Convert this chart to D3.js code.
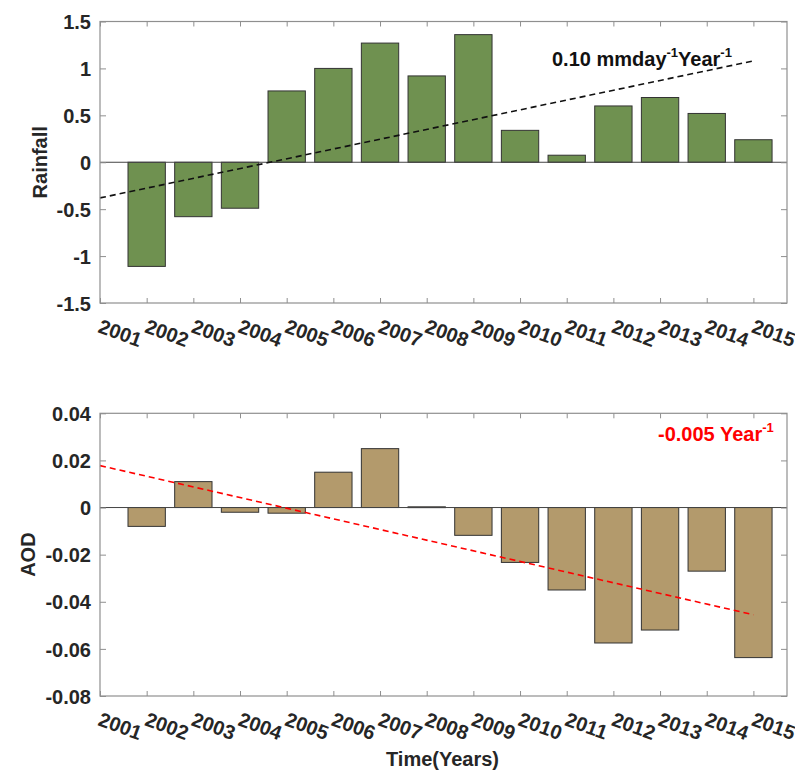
<!DOCTYPE html>
<html>
<head>
<meta charset="utf-8">
<script src="https://cdn.jsdelivr.net/npm/d3@7"></script>
<style>
  body { margin: 0; background: #fff; }
  text { font-family: "Liberation Sans", Arial, sans-serif; font-weight: bold; }
</style>
</head>
<body>
<svg id="chart" width="795" height="772"></svg>
<script>
// data
const barYears = [2002, 2003, 2004, 2005, 2006, 2007, 2008, 2009, 2010, 2011, 2012, 2013, 2014, 2015];
const tickYears = [2001, 2002, 2003, 2004, 2005, 2006, 2007, 2008, 2009, 2010, 2011, 2012, 2013, 2014, 2015];
const rainfall = [-1.11, -0.58, -0.49, 0.76, 1.0, 1.27, 0.92, 1.36, 0.34, 0.075, 0.6, 0.69, 0.52, 0.24];
const aod = [-0.008, 0.011, -0.002, -0.0024, 0.015, 0.025, 0.0003, -0.0118, -0.0233, -0.035, -0.0575, -0.052, -0.027, -0.0637];
const rainTicks = [-1.5, -1, -0.5, 0, 0.5, 1, 1.5];
const aodTicks = [-0.08, -0.06, -0.04, -0.02, 0, 0.02, 0.04];
const rainTrendX = [2001, 2015], rainTrendY = [-0.38, 1.08];
const aodTrendX = [2001, 2015], aodTrendY = [0.0178, -0.0455];

const svg = d3.select("#chart");
const left = 100, right = 787;

const x = d3.scaleLinear().domain([2001, 2015.72]).range([left, right]);

// one panel = bars + box axes + trend line
const drawPanel = (cfg) => {
  const y = d3.scaleLinear().domain(cfg.domain).range([cfg.bottom, cfg.top]);
  const g = svg.append("g");
  const bw = (x(2002) - x(2001)) * 0.8;

  // bars
  g.selectAll("rect.bar")
    .data(barYears.map((yr, i) => ({ yr, v: cfg.values[i] })))
    .enter()
    .append("rect")
    .attr("class", "bar")
    .attr("x", d => x(d.yr) - bw / 2)
    .attr("width", bw)
    .attr("y", d => y(Math.max(0, d.v)))
    .attr("height", d => Math.max(0.8, Math.abs(y(d.v) - y(0))))
    .attr("fill", cfg.color)
    .attr("stroke", "#333")
    .attr("stroke-width", 1);

  // baseline
  g.append("line")
    .attr("x1", left).attr("x2", right)
    .attr("y1", y(0)).attr("y2", y(0))
    .attr("stroke", "#444").attr("stroke-width", 1);

  // trend
  const line = d3.line().x(d => x(d[0])).y(d => y(d[1]));
  g.append("path")
    .attr("d", line(cfg.trendX.map((t, i) => [t, cfg.trendY[i]])))
    .attr("fill", "none")
    .attr("stroke", cfg.trendColor)
    .attr("stroke-width", 1.6)
    .attr("stroke-dasharray", "6,4");

  // axes
  const axisColor = "#8f8f8f";
  const yl = g.append("g").attr("transform", `translate(${left},0)`)
    .call(d3.axisLeft(y).tickValues(cfg.ticks).tickSize(-6).tickSizeOuter(0).tickPadding(9).tickFormat(d => String(d)));
  const yr = g.append("g").attr("transform", `translate(${right},0)`)
    .call(d3.axisRight(y).tickValues(cfg.ticks).tickSize(-6).tickSizeOuter(0).tickFormat(""));
  const xt = g.append("g").attr("transform", `translate(0,${cfg.top})`)
    .call(d3.axisTop(x).tickValues(tickYears).tickSize(-5).tickSizeOuter(0).tickFormat(""));
  const xb = g.append("g").attr("transform", `translate(0,${cfg.bottom})`)
    .call(d3.axisBottom(x).tickValues(tickYears).tickSize(-5).tickSizeOuter(0).tickFormat(d => String(d)));

  [yl, yr, xt, xb].forEach(a => {
    a.select(".domain").remove();
    a.selectAll(".tick line").attr("stroke", axisColor);
  });
  yl.selectAll("text").attr("font-size", 20).attr("fill", "#262626").attr("dy", "0.36em");
  xb.selectAll("text")
    .attr("font-size", 20).attr("fill", "#262626")
    .attr("x", 0).attr("y", 0).attr("dy", 0)
    .attr("text-anchor", "start")
    .attr("transform", "translate(-3.5,29) rotate(20)");

  g.append("rect")
    .attr("x", left).attr("y", cfg.top)
    .attr("width", right - left).attr("height", cfg.bottom - cfg.top)
    .attr("fill", "none").attr("stroke", axisColor).attr("stroke-width", 1.2);

  // y label
  g.append("text")
    .attr("transform", `translate(${cfg.labelX},${(cfg.top + cfg.bottom) / 2}) rotate(-90)`)
    .attr("text-anchor", "middle")
    .attr("font-size", 20)
    .attr("fill", "#262626")
    .text(cfg.label);

  // annotation
  const ann = g.append("text")
    .attr("x", cfg.annX).attr("y", cfg.annY)
    .attr("font-size", 20)
    .attr("fill", cfg.trendColor);
  cfg.annParts.forEach(p => {
    ann.append("tspan")
      .attr("font-size", p.sup ? 13 : 20)
      .attr("dy", p.sup ? -9 : (p.after ? 9 : 0))
      .text(p.t);
  });
};

drawPanel({
  domain: [-1.5, 1.5], top: 21.5, bottom: 303, values: rainfall, ticks: rainTicks,
  color: "#6f9150", trendColor: "#111", trendX: rainTrendX, trendY: rainTrendY,
  label: "Rainfall", labelX: 47,
  annX: 552, annY: 66,
  annParts: [{ t: "0.10 mmday" }, { t: "-1", sup: true }, { t: "Year", after: true }, { t: "-1", sup: true }]
});

drawPanel({
  domain: [-0.08, 0.04], top: 413.3, bottom: 696, values: aod, ticks: aodTicks,
  color: "#b39a6c", trendColor: "#ff0000", trendX: aodTrendX, trendY: aodTrendY,
  label: "AOD", labelX: 35,
  annX: 658, annY: 441,
  annParts: [{ t: "-0.005 Year" }, { t: "-1", sup: true }]
});

// x label
svg.append("text")
  .attr("x", (left + right) / 2 - 1)
  .attr("y", 766)
  .attr("text-anchor", "middle")
  .attr("font-size", 20)
  .attr("fill", "#262626")
  .text("Time(Years)");
</script>
</body>
</html>
